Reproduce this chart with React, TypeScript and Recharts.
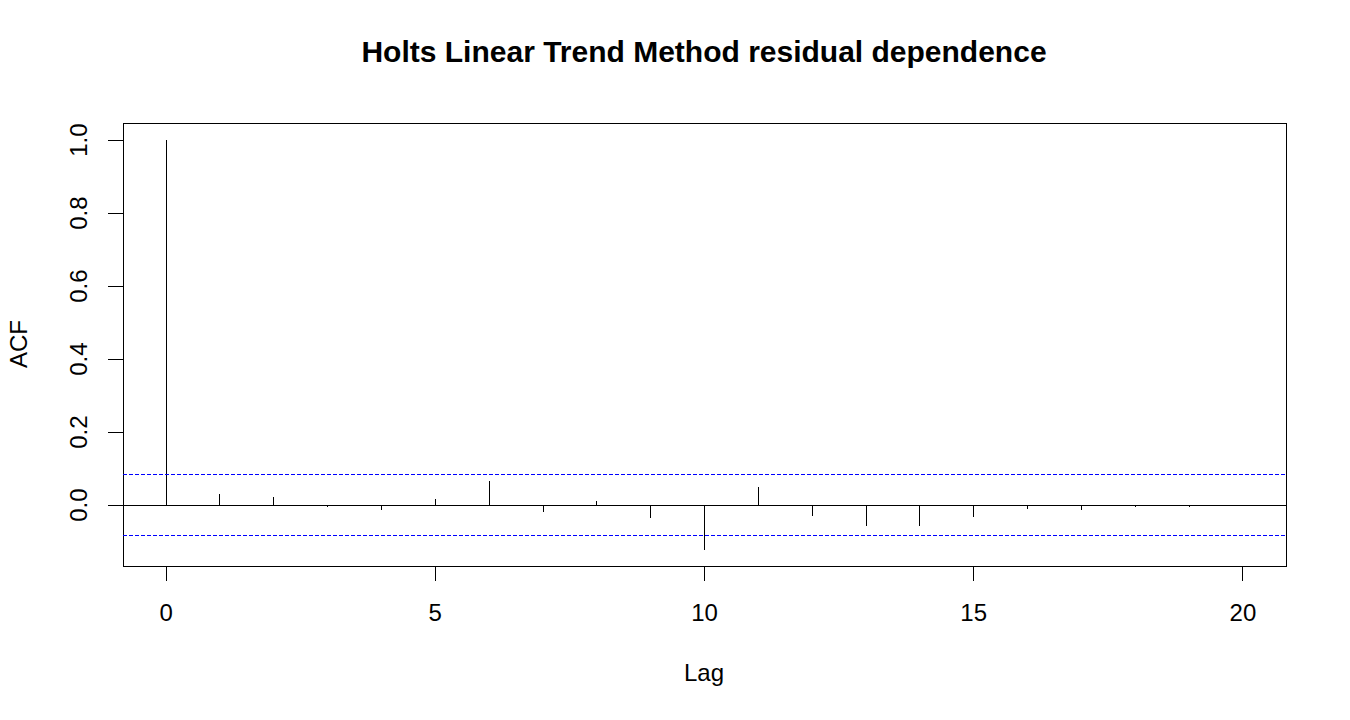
import React from "react";
import { ComposedChart, Bar, XAxis, YAxis, ReferenceLine, ReferenceArea } from "recharts";

const lags = [0, 1, 2, 3, 4, 5, 6, 7, 8, 9, 10, 11, 12, 13, 14, 15, 16, 17, 18, 19, 20];
const acfValues = [
  1.0, 0.031, 0.023, -0.004, -0.013, 0.017, 0.067, -0.018, 0.012, -0.035, -0.124,
  0.05, -0.029, -0.057, -0.057, -0.032, -0.011, -0.013, -0.004, -0.006, 0.001,
];
const confLimit = 0.083;
const xTicks = [0, 5, 10, 15, 20];
const yTicks = [0, 0.2, 0.4, 0.6, 0.8, 1.0];
const xDomain = [-0.8, 20.8];
const yDomain = [-0.167, 1.047];

const titleText = "Holts Linear Trend Method residual dependence";
const xLabel = "Lag";
const yLabel = "ACF";

const data = lags.map((lag, i) => ({ lag, acf: acfValues[i] }));

const FONT = "'Liberation Sans', Arial, sans-serif";

const Spike = (props: any) => {
  const { x, y, width, height } = props;
  if (x == null || y == null) return null;
  const cx = Math.floor(x + width / 2) + 0.5;
  return (
    <line
      x1={cx}
      x2={cx}
      y1={y}
      y2={y + height}
      stroke="#000"
      strokeWidth={1}
      shapeRendering="crispEdges"
    />
  );
};

const XTick = (props: any) => {
  const { x, y, payload } = props;
  return (
    <text x={x} y={y + 40} textAnchor="middle" fontFamily={FONT} fontSize={24} fill="#000">
      {String(payload.value)}
    </text>
  );
};

const YTick = (props: any) => {
  const { x, y, payload } = props;
  const tx = x - 21;
  return (
    <text
      x={tx}
      y={y}
      textAnchor="middle"
      transform={`rotate(-90, ${tx}, ${y})`}
      fontFamily={FONT}
      fontSize={24}
      fill="#000"
    >
      {Number(payload.value).toFixed(1)}
    </text>
  );
};

export default function App() {
  return (
    <div style={{ position: "absolute", left: 0, top: 0, width: 1350, height: 720, background: "#fff" }}>
      <ComposedChart
        width={1350}
        height={720}
        data={data}
        margin={{ top: 123, right: 64, bottom: 94, left: 63 }}
      >
        <XAxis
          dataKey="lag"
          type="number"
          domain={xDomain}
          ticks={xTicks}
          height={60}
          axisLine={false}
          tickSize={15}
          tickMargin={0}
          tickLine={{ stroke: "#000", strokeWidth: 1, shapeRendering: "crispEdges" }}
          tick={<XTick />}
          interval={0}
          allowDataOverflow
        />
        <YAxis
          type="number"
          domain={yDomain}
          ticks={yTicks}
          width={60}
          axisLine={false}
          tickSize={15}
          tickMargin={0}
          tickLine={{ stroke: "#000", strokeWidth: 1, shapeRendering: "crispEdges" }}
          tick={<YTick />}
          interval={0}
          allowDataOverflow
        />
        <ReferenceArea
          x1={xDomain[0]}
          x2={xDomain[1]}
          y1={yDomain[0]}
          y2={yDomain[1]}
          fill="none"
          fillOpacity={0}
          stroke="#000"
          strokeWidth={1}
          shapeRendering="crispEdges"
          ifOverflow="visible"
        />
        <ReferenceLine y={0} stroke="#000" strokeWidth={1} shapeRendering="crispEdges" />
        <ReferenceLine y={confLimit} stroke="#0000FF" strokeWidth={1} strokeDasharray="4 2" shapeRendering="crispEdges" />
        <ReferenceLine y={-confLimit} stroke="#0000FF" strokeWidth={1} strokeDasharray="4 2" shapeRendering="crispEdges" />
        <Bar dataKey="acf" barSize={2} shape={<Spike />} isAnimationActive={false} />
      </ComposedChart>
      <svg
        width={1350}
        height={720}
        style={{ position: "absolute", left: 0, top: 0, pointerEvents: "none" }}
      >
        <text x={704} y={62} textAnchor="middle" fontFamily={FONT} fontWeight="bold" fontSize={30} fill="#000">
          {titleText}
        </text>
        <text x={704} y={681} textAnchor="middle" fontFamily={FONT} fontSize={24} fill="#000">
          {xLabel}
        </text>
        <text
          x={27}
          y={344}
          textAnchor="middle"
          transform="rotate(-90, 27, 344)"
          fontFamily={FONT}
          fontSize={24}
          fill="#000"
        >
          {yLabel}
        </text>
      </svg>
    </div>
  );
}
